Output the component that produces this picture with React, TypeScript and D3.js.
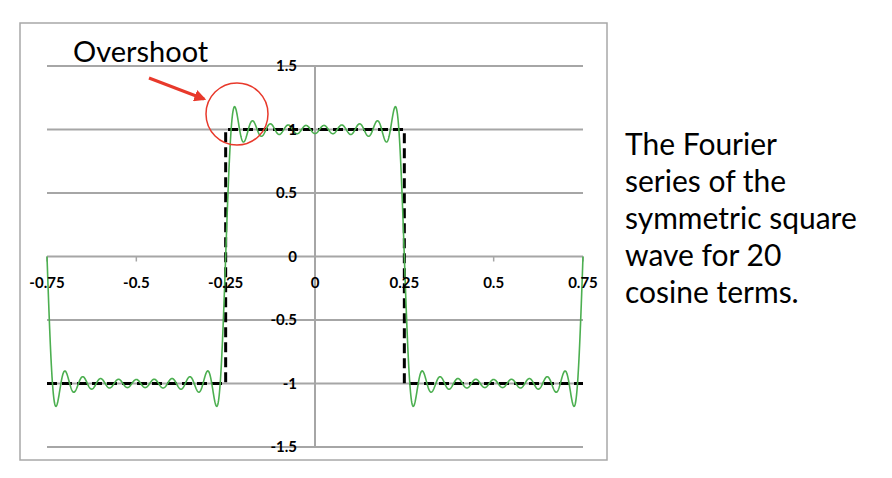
import React from "react";
import * as d3 from "d3";

// Cosine-term coefficients (n = 1..20) of the symmetric square wave
const harmonics = [1, 2, 3, 4, 5, 6, 7, 8, 9, 10, 11, 12, 13, 14, 15, 16, 17, 18, 19, 20];
const coefficients = [
  1.27324, 0, -0.42441, 0, 0.25465, 0, -0.18189, 0, 0.14147, 0,
  -0.11575, 0, 0.09794, 0, -0.08488, 0, 0.0749, 0, -0.06701, 0,
];

// Ideal square wave corners
const squareX = [-0.75, -0.25, -0.25, 0.25, 0.25, 0.75];
const squareY = [-1, -1, 1, 1, -1, -1];

const xTicks = [-0.75, -0.5, -0.25, 0, 0.25, 0.5, 0.75];
const xTickLabels = ["-0.75", "-0.5", "-0.25", "0", "0.25", "0.5", "0.75"];
const yTicks = [-1.5, -1, -0.5, 0, 0.5, 1, 1.5];
const yTickLabels = ["-1.5", "-1", "-0.5", "0", "0.5", "1", "1.5"];

const captionLines = ["The Fourier", "series of the", "symmetric square", "wave for 20", "cosine terms."];
const annotation = "Overshoot";

export default function App() {
  const W = 892;
  const H = 478;
  const x = d3.scaleLinear().domain([-0.75, 0.75]).range([47, 583]);
  const y = d3.scaleLinear().domain([-1.5, 1.5]).range([447, 66]);

  const N = 1600;
  const samples: [number, number][] = d3.range(N + 1).map((i) => {
    const t = -0.75 + (1.5 * i) / N;
    let s = 0;
    harmonics.forEach((n, k) => {
      s += coefficients[k] * Math.cos(2 * Math.PI * n * t);
    });
    return [t, s];
  });

  const line = d3
    .line<[number, number]>()
    .x((d) => x(d[0]))
    .y((d) => y(d[1]));

  const square: [number, number][] = squareX.map((v, i) => [v, squareY[i]]);

  const font = "Lato, 'Open Sans', 'DejaVu Sans', sans-serif";
  const grid = "#a6a6a6";

  return (
    <svg
      width={W}
      height={H}
      style={{ position: "absolute", left: 0, top: 0, display: "block", background: "#fff" }}
    >
      <defs>
        <marker id="arrowHead" viewBox="0 0 10 10" refX="8" refY="5" markerWidth="4" markerHeight="4" orient="auto">
          <path d="M0,0 L10,5 L0,10 z" fill="#e8392b" />
        </marker>
      </defs>
      {/* chart border */}
      <rect x={20} y={23} width={587} height={437} fill="none" stroke="#a8a8a8" strokeWidth={1.5} />

      {/* horizontal gridlines */}
      {yTicks.map((t) => (
        <line key={"g" + t} x1={x(-0.75)} x2={x(0.75)} y1={y(t)} y2={y(t)} stroke={grid} strokeWidth={2} />
      ))}
      {/* y axis */}
      <line x1={x(0)} x2={x(0)} y1={y(1.5)} y2={y(-1.5)} stroke={grid} strokeWidth={2} />
      {/* x ticks */}
      {xTicks.map((t) => (
        <line key={"xt" + t} x1={x(t)} x2={x(t)} y1={y(0)} y2={y(0) + 5} stroke={grid} strokeWidth={1.5} />
      ))}

      {/* square wave */}
      <path d={line(square) || ""} fill="none" stroke="#000" strokeWidth={3} strokeDasharray="10,5" />

      {/* Fourier series */}
      <path d={line(samples) || ""} fill="none" stroke="#4caf50" strokeWidth={1.6} />

      {/* tick labels */}
      {yTicks.map((t, i) => (
        <text
          key={"yl" + t}
          x={297}
          y={y(t)}
          dy="0.35em"
          textAnchor="end"
          fontFamily={font}
          fontWeight="bold"
          fontSize={15}
          fill="#000"
        >
          {yTickLabels[i]}
        </text>
      ))}
      {xTicks.map((t, i) => (
        <text
          key={"xl" + t}
          x={x(t)}
          y={283}
          dy="0.35em"
          textAnchor="middle"
          fontFamily={font}
          fontWeight="bold"
          fontSize={15}
          fill="#000"
        >
          {xTickLabels[i]}
        </text>
      ))}

      {/* annotation */}
      <text x={73} y={62} fontFamily={font} fontSize={29} fill="#000">
        {annotation}
      </text>
      <line x1={149} y1={78} x2={204} y2={99} stroke="#e8392b" strokeWidth={3} markerEnd="url(#arrowHead)" />
      <circle cx={237} cy={114} r={31} fill="none" stroke="#e8392b" strokeWidth={1.5} />

      {/* caption */}
      {captionLines.map((s, i) => (
        <text key={"c" + i} x={625} y={155 + i * 37} fontFamily={font} fontSize={30} fill="#000">
          {s}
        </text>
      ))}
    </svg>
  );
}
